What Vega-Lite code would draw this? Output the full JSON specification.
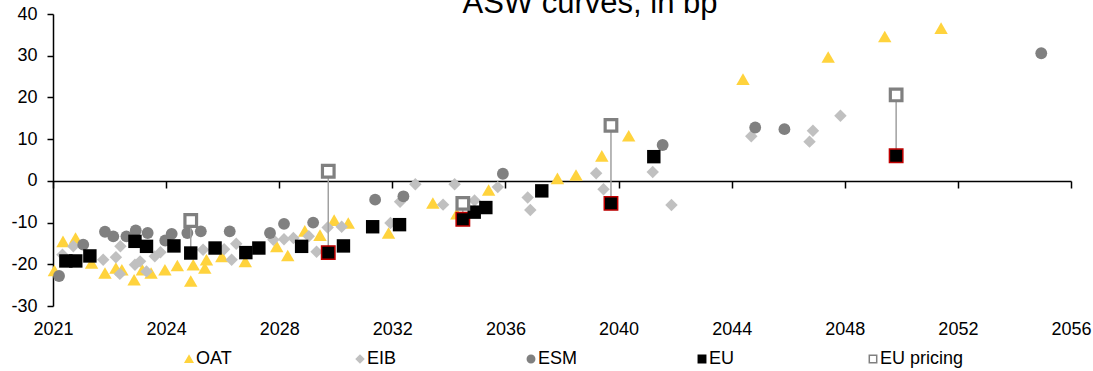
{
  "$schema": "https://vega.github.io/schema/vega-lite/v6.json",
  "width": 1018,
  "height": 292,
  "autosize": {"type": "none"},
  "padding": {"left": 53, "top": 14, "right": 22, "bottom": 65},
  "background": "white",
  "title": {
    "text": "ASW curves, in bp",
    "font": "Liberation Sans",
    "fontSize": 31,
    "fontWeight": "normal",
    "color": "#000000",
    "anchor": "middle",
    "frame": "group",
    "baseline": "alphabetic",
    "offset": 0,
    "dx": 28,
    "dy": 39
  },
  "datasets": {
    "bonds": [
      {"series": "OAT", "maturity": "2021-01-19", "asw": -21.5},
      {"series": "OAT", "maturity": "2021-05-10", "asw": -14.5},
      {"series": "OAT", "maturity": "2021-10-19", "asw": -13.7},
      {"series": "OAT", "maturity": "2022-05-14", "asw": -19.7},
      {"series": "OAT", "maturity": "2022-11-03", "asw": -22.1},
      {"series": "OAT", "maturity": "2023-03-24", "asw": -20.9},
      {"series": "OAT", "maturity": "2023-06-09", "asw": -21.3},
      {"series": "OAT", "maturity": "2023-11-14", "asw": -23.7},
      {"series": "OAT", "maturity": "2024-02-28", "asw": -21.3},
      {"series": "OAT", "maturity": "2024-06-20", "asw": -22.1},
      {"series": "OAT", "maturity": "2024-12-16", "asw": -21.3},
      {"series": "OAT", "maturity": "2025-05-25", "asw": -20.3},
      {"series": "OAT", "maturity": "2025-11-14", "asw": -24.0},
      {"series": "OAT", "maturity": "2025-12-16", "asw": -20.1},
      {"series": "OAT", "maturity": "2026-05-14", "asw": -20.9},
      {"series": "OAT", "maturity": "2026-06-05", "asw": -18.9},
      {"series": "OAT", "maturity": "2026-12-20", "asw": -18.1},
      {"series": "OAT", "maturity": "2027-10-19", "asw": -19.3},
      {"series": "OAT", "maturity": "2028-11-28", "asw": -15.7},
      {"series": "OAT", "maturity": "2029-04-19", "asw": -17.9},
      {"series": "OAT", "maturity": "2029-11-25", "asw": -12.0},
      {"series": "OAT", "maturity": "2030-06-09", "asw": -13.0},
      {"series": "OAT", "maturity": "2030-12-09", "asw": -9.4},
      {"series": "OAT", "maturity": "2031-06-09", "asw": -10.1},
      {"series": "OAT", "maturity": "2032-11-10", "asw": -12.5},
      {"series": "OAT", "maturity": "2034-06-05", "asw": -5.3},
      {"series": "OAT", "maturity": "2035-04-11", "asw": -7.9},
      {"series": "OAT", "maturity": "2036-05-25", "asw": -2.2},
      {"series": "OAT", "maturity": "2038-10-30", "asw": 0.6},
      {"series": "OAT", "maturity": "2039-06-27", "asw": 1.4},
      {"series": "OAT", "maturity": "2040-05-25", "asw": 6.0},
      {"series": "OAT", "maturity": "2041-05-07", "asw": 10.8},
      {"series": "OAT", "maturity": "2045-05-21", "asw": 24.4},
      {"series": "OAT", "maturity": "2048-05-25", "asw": 29.7},
      {"series": "OAT", "maturity": "2050-05-25", "asw": 34.6},
      {"series": "OAT", "maturity": "2052-05-21", "asw": 36.6},

      {"series": "EIB", "maturity": "2021-05-03", "asw": -17.7},
      {"series": "EIB", "maturity": "2021-09-20", "asw": -15.7},
      {"series": "EIB", "maturity": "2022-10-11", "asw": -18.9},
      {"series": "EIB", "maturity": "2023-03-24", "asw": -18.3},
      {"series": "EIB", "maturity": "2023-05-21", "asw": -15.7},
      {"series": "EIB", "maturity": "2023-05-14", "asw": -22.3},
      {"series": "EIB", "maturity": "2023-11-25", "asw": -20.1},
      {"series": "EIB", "maturity": "2024-01-30", "asw": -19.3},
      {"series": "EIB", "maturity": "2024-04-22", "asw": -21.7},
      {"series": "EIB", "maturity": "2024-08-07", "asw": -18.1},
      {"series": "EIB", "maturity": "2024-10-19", "asw": -17.1},
      {"series": "EIB", "maturity": "2026-04-22", "asw": -16.5},
      {"series": "EIB", "maturity": "2027-01-19", "asw": -16.4},
      {"series": "EIB", "maturity": "2027-04-26", "asw": -18.9},
      {"series": "EIB", "maturity": "2027-06-24", "asw": -15.1},
      {"series": "EIB", "maturity": "2028-10-15", "asw": -14.1},
      {"series": "EIB", "maturity": "2029-03-02", "asw": -14.0},
      {"series": "EIB", "maturity": "2029-07-01", "asw": -13.7},
      {"series": "EIB", "maturity": "2030-01-15", "asw": -13.3},
      {"series": "EIB", "maturity": "2030-04-26", "asw": -17.0},
      {"series": "EIB", "maturity": "2030-09-16", "asw": -11.2},
      {"series": "EIB", "maturity": "2031-03-16", "asw": -11.0},
      {"series": "EIB", "maturity": "2032-12-05", "asw": -10.1},
      {"series": "EIB", "maturity": "2033-04-08", "asw": -5.0},
      {"series": "EIB", "maturity": "2033-10-22", "asw": -0.8},
      {"series": "EIB", "maturity": "2034-10-15", "asw": -5.7},
      {"series": "EIB", "maturity": "2035-03-13", "asw": -0.8},
      {"series": "EIB", "maturity": "2035-11-25", "asw": -4.7},
      {"series": "EIB", "maturity": "2036-09-20", "asw": -1.5},
      {"series": "EIB", "maturity": "2037-10-11", "asw": -4.0},
      {"series": "EIB", "maturity": "2037-11-14", "asw": -7.0},
      {"series": "EIB", "maturity": "2040-03-13", "asw": 1.8},
      {"series": "EIB", "maturity": "2040-06-16", "asw": -2.0},
      {"series": "EIB", "maturity": "2042-03-13", "asw": 2.1},
      {"series": "EIB", "maturity": "2042-11-10", "asw": -5.8},
      {"series": "EIB", "maturity": "2045-09-05", "asw": 10.7},
      {"series": "EIB", "maturity": "2047-09-27", "asw": 9.4},
      {"series": "EIB", "maturity": "2047-11-10", "asw": 12.0},
      {"series": "EIB", "maturity": "2048-10-30", "asw": 15.6},

      {"series": "ESM", "maturity": "2021-03-20", "asw": -22.8},
      {"series": "ESM", "maturity": "2022-01-26", "asw": -15.3},
      {"series": "ESM", "maturity": "2022-11-03", "asw": -12.2},
      {"series": "ESM", "maturity": "2023-02-18", "asw": -13.3},
      {"series": "ESM", "maturity": "2023-08-07", "asw": -13.3},
      {"series": "ESM", "maturity": "2023-12-05", "asw": -11.9},
      {"series": "ESM", "maturity": "2024-05-07", "asw": -12.5},
      {"series": "ESM", "maturity": "2024-12-20", "asw": -14.3},
      {"series": "ESM", "maturity": "2025-03-13", "asw": -12.7},
      {"series": "ESM", "maturity": "2025-10-01", "asw": -12.5},
      {"series": "ESM", "maturity": "2026-03-24", "asw": -12.1},
      {"series": "ESM", "maturity": "2027-04-01", "asw": -12.1},
      {"series": "ESM", "maturity": "2028-09-02", "asw": -12.5},
      {"series": "ESM", "maturity": "2029-03-02", "asw": -10.3},
      {"series": "ESM", "maturity": "2030-03-13", "asw": -10.0},
      {"series": "ESM", "maturity": "2032-05-21", "asw": -4.5},
      {"series": "ESM", "maturity": "2033-05-21", "asw": -3.7},
      {"series": "ESM", "maturity": "2036-11-25", "asw": 1.7},
      {"series": "ESM", "maturity": "2042-07-19", "asw": 8.6},
      {"series": "ESM", "maturity": "2045-10-26", "asw": 12.8},
      {"series": "ESM", "maturity": "2046-11-07", "asw": 12.4},
      {"series": "ESM", "maturity": "2055-12-05", "asw": 30.6},

      {"series": "EU", "maturity": "2021-06-16", "asw": -19.2},
      {"series": "EU", "maturity": "2021-10-22", "asw": -19.2},
      {"series": "EU", "maturity": "2022-04-22", "asw": -18.0},
      {"series": "EU", "maturity": "2023-11-25", "asw": -14.5},
      {"series": "EU", "maturity": "2024-04-22", "asw": -15.7},
      {"series": "EU", "maturity": "2025-04-11", "asw": -15.6},
      {"series": "EU", "maturity": "2025-11-14", "asw": -17.3},
      {"series": "EU", "maturity": "2026-09-24", "asw": -16.1},
      {"series": "EU", "maturity": "2027-10-26", "asw": -17.2},
      {"series": "EU", "maturity": "2028-04-11", "asw": -16.1},
      {"series": "EU", "maturity": "2029-10-15", "asw": -15.7},
      {"series": "EU", "maturity": "2030-09-24", "asw": -17.2, "new_line": true},
      {"series": "EU", "maturity": "2031-04-08", "asw": -15.6},
      {"series": "EU", "maturity": "2032-04-19", "asw": -11.0},
      {"series": "EU", "maturity": "2033-04-01", "asw": -10.5},
      {"series": "EU", "maturity": "2035-06-27", "asw": -9.2, "new_line": true},
      {"series": "EU", "maturity": "2035-11-21", "asw": -7.5},
      {"series": "EU", "maturity": "2036-04-19", "asw": -6.4},
      {"series": "EU", "maturity": "2038-04-11", "asw": -2.4},
      {"series": "EU", "maturity": "2040-09-20", "asw": -5.4, "new_line": true},
      {"series": "EU", "maturity": "2042-03-27", "asw": 5.8},
      {"series": "EU", "maturity": "2050-10-19", "asw": 6.0, "new_line": true},

      {"series": "EU pricing", "maturity": "2025-11-14", "asw": -9.5, "eu_asw": -17.3},
      {"series": "EU pricing", "maturity": "2030-09-24", "asw": 2.3, "eu_asw": -17.2},
      {"series": "EU pricing", "maturity": "2035-06-27", "asw": -5.4, "eu_asw": -9.2},
      {"series": "EU pricing", "maturity": "2040-09-20", "asw": 13.3, "eu_asw": -5.4},
      {"series": "EU pricing", "maturity": "2050-10-19", "asw": 20.6, "eu_asw": 6.0}
    ]
  },
  "data": {"name": "bonds"},
  "encoding": {
    "x": {
      "field": "maturity",
      "type": "temporal",
      "scale": {
        "type": "utc",
        "domain": [
          {"year": 2021, "month": 1, "date": 1, "utc": true},
          {"year": 2056, "month": 12, "date": 23, "utc": true}
        ]
      },
      "axis": null
    },
    "y": {
      "field": "asw",
      "type": "quantitative",
      "scale": {"domain": [-30, 40], "nice": false, "zero": false},
      "axis": {
        "title": null,
        "orient": "left",
        "values": [-30, -20, -10, 0, 10, 20, 30, 40],
        "labelExpr": "'' + datum.value",
        "grid": false,
        "domain": true,
        "domainColor": "#000000",
        "domainWidth": 1.5,
        "ticks": true,
        "tickColor": "#000000",
        "tickWidth": 1.5,
        "tickSize": 6,
        "labelPadding": 10,
        "labelFont": "Liberation Sans",
        "labelFontSize": 18,
        "labelColor": "#000000",
        "labelFlush": false,
        "labelOverlap": false
      }
    },
    "shape": {
      "field": "series",
      "type": "nominal",
      "scale": {
        "domain": ["OAT", "EIB", "ESM", "EU", "EU pricing"],
        "range": ["triangle-up", "diamond", "circle", "square", "square"]
      },
      "legend": {
        "title": null,
        "orient": "none",
        "legendX": 127,
        "legendY": 336,
        "direction": "horizontal",
        "columns": 5,
        "gridAlign": "all",
        "columnPadding": 71,
        "padding": 0,
        "symbolSize": 55,
        "labelFont": "Liberation Sans",
        "labelFontSize": 18,
        "labelColor": "#000000",
        "labelOffset": -2,
        "encode": {
          "symbols": {
            "update": {
              "strokeWidth": {"signal": "datum.value === 'EU pricing' ? 2.5 : 0"}
            }
          }
        }
      }
    },
    "fill": {
      "field": "series",
      "type": "nominal",
      "scale": {
        "domain": ["OAT", "EIB", "ESM", "EU", "EU pricing"],
        "range": ["#FFD33D", "#C0C0C0", "#808080", "#000000", "#FFFFFF"]
      },
      "legend": {
        "title": null,
        "orient": "none",
        "legendX": 127,
        "legendY": 336,
        "direction": "horizontal",
        "columns": 5,
        "gridAlign": "all",
        "columnPadding": 71,
        "padding": 0,
        "symbolSize": 55,
        "labelFont": "Liberation Sans",
        "labelFontSize": 18,
        "labelColor": "#000000",
        "labelOffset": -2,
        "encode": {
          "symbols": {
            "update": {
              "strokeWidth": {"signal": "datum.value === 'EU pricing' ? 2.5 : 0"}
            }
          }
        }
      }
    },
    "stroke": {
      "field": "series",
      "type": "nominal",
      "scale": {
        "domain": ["OAT", "EIB", "ESM", "EU", "EU pricing"],
        "range": ["#FFD33D", "#C0C0C0", "#808080", "#000000", "#808080"]
      },
      "legend": {
        "title": null,
        "orient": "none",
        "legendX": 127,
        "legendY": 336,
        "direction": "horizontal",
        "columns": 5,
        "gridAlign": "all",
        "columnPadding": 71,
        "padding": 0,
        "symbolSize": 55,
        "labelFont": "Liberation Sans",
        "labelFontSize": 18,
        "labelColor": "#000000",
        "labelOffset": -2,
        "encode": {
          "symbols": {
            "update": {
              "strokeWidth": {"signal": "datum.value === 'EU pricing' ? 2.5 : 0"}
            }
          }
        }
      }
    }
  },
  "layer": [
    {
      "transform": [{"filter": "datum.series === 'OAT'"}],
      "mark": {"type": "point", "filled": true, "size": 180, "strokeWidth": 0, "opacity": 1},
      "encoding": {
        "x": {
          "field": "maturity",
          "type": "temporal",
          "scale": {
            "type": "utc",
            "domain": [
              {"year": 2021, "month": 1, "date": 1, "utc": true},
              {"year": 2056, "month": 12, "date": 23, "utc": true}
            ]
          },
          "axis": {
            "orient": "bottom",
            "offset": -125,
            "title": null,
            "labels": false,
            "grid": false,
            "domain": true,
            "domainColor": "#000000",
            "domainWidth": 1.5,
            "ticks": true,
            "tickColor": "#000000",
            "tickWidth": 1.5,
            "tickSize": 7,
            "values": [
              {"year": 2021, "month": 1, "date": 1, "utc": true},
              {"year": 2024, "month": 12, "date": 31, "utc": true},
              {"year": 2028, "month": 12, "date": 30, "utc": true},
              {"year": 2032, "month": 12, "date": 29, "utc": true},
              {"year": 2036, "month": 12, "date": 28, "utc": true},
              {"year": 2040, "month": 12, "date": 27, "utc": true},
              {"year": 2044, "month": 12, "date": 26, "utc": true},
              {"year": 2048, "month": 12, "date": 25, "utc": true},
              {"year": 2052, "month": 12, "date": 24, "utc": true},
              {"year": 2056, "month": 12, "date": 23, "utc": true}
            ]
          }
        }
      }
    },
    {
      "transform": [{"filter": "datum.series === 'EIB'"}],
      "mark": {"type": "point", "filled": true, "size": 155, "strokeWidth": 0, "opacity": 1},
      "encoding": {
        "x": {
          "field": "maturity",
          "type": "temporal",
          "scale": {
            "type": "utc",
            "domain": [
              {"year": 2021, "month": 1, "date": 1, "utc": true},
              {"year": 2056, "month": 12, "date": 23, "utc": true}
            ]
          },
          "axis": {
            "orient": "bottom",
            "title": null,
            "grid": false,
            "domain": false,
            "ticks": false,
            "labels": true,
            "labelExpr": "utcFormat(datum.value, '%Y')",
            "labelPadding": 14,
            "labelFont": "Liberation Sans",
            "labelFontSize": 18,
            "labelColor": "#000000",
            "labelFlush": false,
            "labelOverlap": false,
            "labelBound": false,
            "values": [
              {"year": 2021, "month": 1, "date": 1, "utc": true},
              {"year": 2024, "month": 12, "date": 31, "utc": true},
              {"year": 2028, "month": 12, "date": 30, "utc": true},
              {"year": 2032, "month": 12, "date": 29, "utc": true},
              {"year": 2036, "month": 12, "date": 28, "utc": true},
              {"year": 2040, "month": 12, "date": 27, "utc": true},
              {"year": 2044, "month": 12, "date": 26, "utc": true},
              {"year": 2048, "month": 12, "date": 25, "utc": true},
              {"year": 2052, "month": 12, "date": 24, "utc": true},
              {"year": 2056, "month": 12, "date": 23, "utc": true}
            ]
          }
        }
      }
    },
    {
      "transform": [{"filter": "datum.series === 'ESM'"}],
      "mark": {"type": "point", "filled": true, "size": 140, "strokeWidth": 0, "opacity": 1}
    },
    {
      "transform": [{"filter": "datum.series === 'EU pricing'"}],
      "mark": {"type": "rule", "strokeWidth": 1.5},
      "encoding": {
        "y2": {"field": "eu_asw"},
        "stroke": {"value": "#A0A0A0"}
      }
    },
    {
      "transform": [{"filter": "datum.series === 'EU'"}],
      "mark": {"type": "point", "filled": true, "size": 180, "opacity": 1},
      "encoding": {
        "strokeWidth": {"condition": {"test": "datum.new_line === true", "value": 1.5}, "value": 0},
        "stroke": {
          "condition": {"test": "datum.new_line === true", "value": "#C00000"},
          "field": "series",
          "type": "nominal",
          "scale": {
            "domain": ["OAT", "EIB", "ESM", "EU", "EU pricing"],
            "range": ["#FFD33D", "#C0C0C0", "#808080", "#000000", "#808080"]
          },
          "legend": {
            "title": null,
            "orient": "none",
            "legendX": 127,
            "legendY": 336,
            "direction": "horizontal",
            "columns": 5,
            "gridAlign": "all",
            "columnPadding": 71,
            "padding": 0,
            "symbolSize": 55,
            "labelFont": "Liberation Sans",
            "labelFontSize": 18,
            "labelColor": "#000000",
            "labelOffset": -2,
            "encode": {
              "symbols": {
                "update": {
                  "strokeWidth": {"signal": "datum.value === 'EU pricing' ? 2.5 : 0"}
                }
              }
            }
          }
        }
      }
    },
    {
      "transform": [{"filter": "datum.series === 'EU pricing'"}],
      "mark": {"type": "point", "filled": true, "size": 135, "strokeWidth": 3.2, "opacity": 1}
    }
  ],
  "resolve": {"axis": {"x": "independent"}},
  "config": {
    "view": {"stroke": null},
    "font": "Liberation Sans"
  }
}
